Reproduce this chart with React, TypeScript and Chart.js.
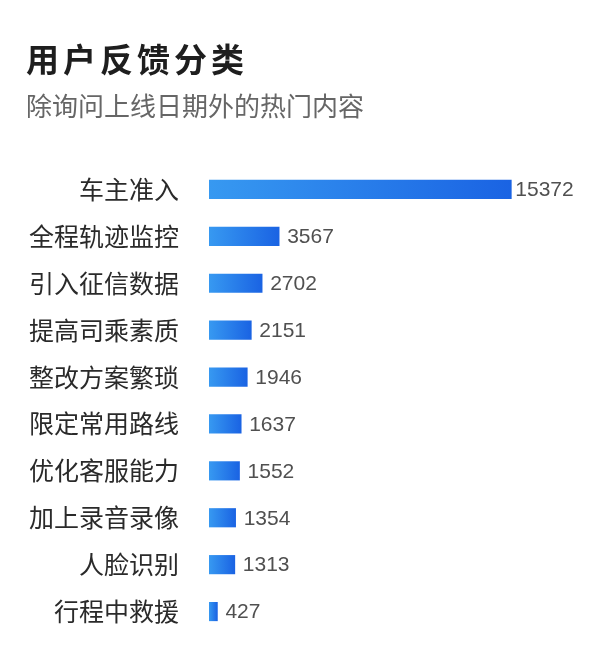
import React, { useEffect, useRef } from 'react';
import { Chart, registerables } from 'chart.js';

Chart.register(...registerables);

const titleText = '用户反馈分类';
const subtitleText = '除询问上线日期外的热门内容';
const categories = [
  '车主准入',
  '全程轨迹监控',
  '引入征信数据',
  '提高司乘素质',
  '整改方案繁琐',
  '限定常用路线',
  '优化客服能力',
  '加上录音录像',
  '人脸识别',
  '行程中救援',
];
const values = [15372, 3567, 2702, 2151, 1946, 1637, 1552, 1354, 1313, 427];
const xMax = 18000;

const CJK = '"Noto Sans CJK SC", "Noto Sans", sans-serif';

const valueLabels = {
  id: 'valueLabels',
  afterDatasetsDraw(chart: any) {
    const ctx = chart.ctx;
    const meta = chart.getDatasetMeta(0);
    ctx.save();
    ctx.font = '21px "Liberation Sans", Arial, sans-serif';
    ctx.fillStyle = '#505050';
    ctx.textAlign = 'left';
    ctx.textBaseline = 'middle';
    meta.data.forEach((el: any, i: number) => {
      ctx.fillText(String(values[i]), el.x + (i === 0 ? 4 : 8), el.y + 1);
    });
    ctx.restore();
  },
};

export default function App() {
  const ref = useRef<HTMLCanvasElement | null>(null);

  useEffect(() => {
    document.body.style.margin = '0';
    if (!ref.current) return;
    const chart = new Chart(ref.current, {
      type: 'bar',
      data: {
        labels: categories,
        datasets: [
          {
            data: values,
            borderWidth: 0,
            barThickness: 18.5,
            backgroundColor: (c: any) => {
              const ch = c.chart;
              const xs = ch.scales && ch.scales.x;
              if (!ch.chartArea || !xs || c.raw === undefined) return '#2a80ea';
              const x0 = xs.getPixelForValue(0);
              const x1 = xs.getPixelForValue(c.raw);
              if (!isFinite(x0) || !isFinite(x1) || x1 - x0 < 1) return '#2a80ea';
              const g = ch.ctx.createLinearGradient(x0, 0, x1, 0);
              g.addColorStop(0, '#3799f1');
              g.addColorStop(1, '#1a63e3');
              return g;
            },
          },
        ],
      },
      options: {
        indexAxis: 'y',
        responsive: false,
        animation: false,
        layout: { padding: { left: 26, right: 37, top: 166, bottom: 35 } },
        plugins: {
          legend: { display: false },
          tooltip: { enabled: false },
          title: { display: false },
        },
        scales: {
          x: {
            display: false,
            min: 0,
            max: xMax,
          },
          y: {
            grid: { display: false, drawTicks: false },
            border: { display: false },
            afterFit: (scale: any) => {
              scale.width = 183;
              scale.paddingTop = 0;
              scale.paddingBottom = 0;
            },
            ticks: {
              padding: 30,
              color: '#2a2a2a',
              font: { family: CJK, size: 25 },
            },
          },
        },
      },
      plugins: [valueLabels],
    });
    return () => chart.destroy();
  }, []);

  return (
    <div style={{ position: 'relative', width: 600, height: 670, background: '#fff' }}>
      <canvas
        ref={ref}
        width={600}
        height={670}
        style={{ position: 'absolute', left: 0, top: 0, width: 600, height: 670 }}
      />
      <div
        style={{
          position: 'absolute',
          left: 26,
          top: 42,
          fontFamily: CJK,
          fontSize: 33,
          fontWeight: 700,
          letterSpacing: 4,
          lineHeight: '33px',
          color: '#1e1e1e',
          whiteSpace: 'nowrap',
        }}
      >
        {titleText}
      </div>
      <div
        style={{
          position: 'absolute',
          left: 26,
          top: 92,
          fontFamily: CJK,
          fontSize: 26,
          lineHeight: '26px',
          color: '#666',
          whiteSpace: 'nowrap',
        }}
      >
        {subtitleText}
      </div>
    </div>
  );
}
